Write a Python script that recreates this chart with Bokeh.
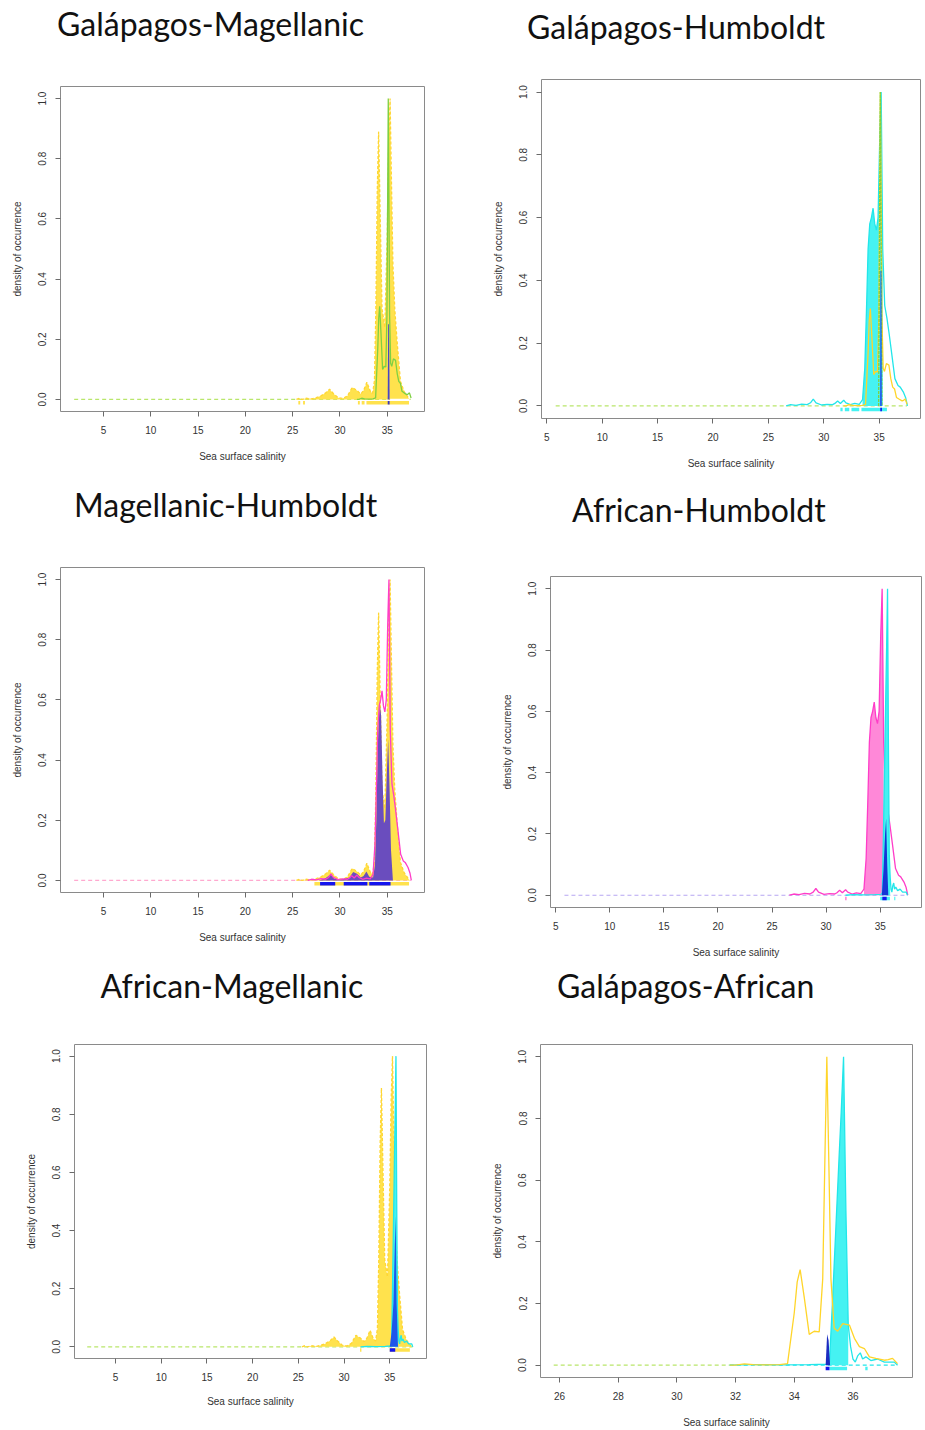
import numpy as np
from bokeh.plotting import figure
from bokeh.layouts import row, column
from bokeh.models import Range1d, FixedTicker, NumeralTickFormatter, Div
from bokeh.embed import file_html
from bokeh.resources import INLINE

# ---------------- texts / ticks ----------------
titles = ["Galápagos-Magellanic", "Galápagos-Humboldt", "Magellanic-Humboldt",
          "African-Humboldt", "African-Magellanic", "Galápagos-African"]
x_label = "Sea surface salinity"
y_label = "density of occurrence"
y_ticks = [0.0, 0.2, 0.4, 0.6, 0.8, 1.0]
x_ticks_full = [5, 10, 15, 20, 25, 30, 35]
x_ticks_zoom = [26, 28, 30, 32, 34, 36]

# ---------------- species density curves ----------------
galapagos_x = [31.8, 32.0, 32.3, 32.6, 33.0, 33.5, 33.77, 34.0, 34.1, 34.2, 34.34, 34.51, 34.68,
               34.85, 34.97, 35.05, 35.11, 35.18, 35.25, 35.36, 35.48, 35.65, 35.88, 36.05,
               36.22, 36.39, 36.56, 36.78, 37.07, 37.2, 37.35, 37.52]
galapagos_y = [0.0, 0.0, 0.004, 0.002, 0.001, 0.002, 0.005, 0.17, 0.27, 0.31, 0.22, 0.10, 0.11,
               0.108, 0.28, 0.7, 1.0, 0.65, 0.28, 0.12, 0.11, 0.135, 0.13, 0.087,
               0.06, 0.054, 0.027, 0.022, 0.016, 0.018, 0.022, 0.005]

magellanic_x = [25.4, 25.7, 26.0, 26.4, 27.0, 27.5, 28.0, 28.5, 28.9, 29.3, 29.8, 30.3, 30.8,
                31.3, 31.6, 31.8, 32.2, 32.5, 32.85, 33.2, 33.45, 33.65, 33.8, 33.95, 34.09,
                34.25, 34.45, 34.75, 35.0, 35.15, 35.3, 35.45, 35.6, 35.8, 36.05, 36.4, 36.8,
                37.1, 37.35]
magellanic_y = [0.0, 0.004, 0.0, 0.004, 0.002, 0.006, 0.012, 0.022, 0.034, 0.02, 0.006, 0.003,
                0.012, 0.04, 0.034, 0.03, 0.018, 0.03, 0.057, 0.028, 0.02, 0.063, 0.3, 0.7,
                0.89, 0.62, 0.3, 0.24, 0.55, 0.85, 1.0, 0.72, 0.45, 0.3, 0.19, 0.06, 0.025,
                0.012, 0.0]

humboldt_x = [26.6, 27.0, 27.5, 28.0, 28.5, 28.8, 29.05, 29.3, 29.8, 30.3, 30.8, 31.0, 31.25,
              31.5, 31.8, 32.0, 32.4, 32.8, 33.2, 33.5, 33.7, 33.85, 34.0, 34.15, 34.3, 34.45,
              34.6, 34.75, 34.9, 35.05, 35.18, 35.32, 35.5, 35.7, 35.9, 36.12, 36.42, 36.7,
              36.9, 37.2, 37.4, 37.55]
humboldt_y = [0.0, 0.004, 0.002, 0.006, 0.004, 0.01, 0.022, 0.01, 0.003, 0.005, 0.004, 0.008,
              0.016, 0.008, 0.018, 0.01, 0.004, 0.008, 0.005, 0.02, 0.12, 0.3, 0.5, 0.58, 0.6,
              0.63, 0.58, 0.56, 0.6, 0.85, 1.0, 0.5, 0.32, 0.28, 0.23, 0.17, 0.087, 0.065,
              0.06, 0.043, 0.025, 0.0]

african_x = [31.8, 32.5, 33.5, 34.5, 35.1, 35.2, 35.3, 35.42, 35.53, 35.6, 35.68, 35.76, 35.84,
             35.92, 36.0, 36.08, 36.16, 36.25, 36.33, 36.44, 36.61, 36.84, 37.07, 37.41, 37.52]
african_y = [0.0, 0.002, 0.001, 0.002, 0.003, 0.01, 0.2, 0.45, 0.68, 0.82, 1.0, 0.5, 0.13,
             0.06, 0.02, 0.01, 0.03, 0.04, 0.02, 0.027, 0.015, 0.02, 0.01, 0.01, 0.0]

# environmental extent (dashed background lines)
env_full = [1.9, 37.5]
env_humboldt = [5.8, 37.5]
env_p6_left = [25.8, 31.8]
env_p6_right = [31.8, 37.5]

# filled parts (salinity interval) of a species' curve
p2_humboldt_fill = (33.3, 35.35)
p4_humboldt_fill = (33.4, 35.35)
p4_african_fill = (35.15, 35.95)
p5_african_fill = (35.1, 35.95)
p6_african_fill = (35.15, 35.9)

# stability (overlap) areas per panel
p1_stab_x = [35.05, 35.1, 35.2, 35.25]
p1_stab_y = [0.0, 0.25, 0.25, 0.0]
p2_stab_x = [35.08, 35.12, 35.2, 35.24]
p2_stab_y = [0.0, 0.43, 0.43, 0.0]
p2_green_x = [34.95, 35.1, 35.25]
p2_green_y = [0.0, 1.0, 0.0]
p3_stab_x = [27.8, 28.5, 29.0, 29.4, 30.0, 30.5, 31.0, 31.4, 31.8, 32.2, 32.5, 32.8, 33.1,
             33.5, 33.7, 33.85, 34.0, 34.2, 34.35, 34.5, 34.65, 34.8, 34.95, 35.1, 35.25,
             35.4, 35.6]
p3_stab_y = [0.0, 0.008, 0.02, 0.006, 0.002, 0.006, 0.01, 0.028, 0.022, 0.01, 0.015, 0.03,
             0.012, 0.01, 0.05, 0.2, 0.45, 0.59, 0.55, 0.35, 0.19, 0.2, 0.35, 0.47, 0.3,
             0.1, 0.0]
p4_stab_x = [35.15, 35.3, 35.45, 35.55, 35.65, 35.75]
p4_stab_y = [0.0, 0.08, 0.2, 0.25, 0.1, 0.0]
p5_stab_x = [35.0, 35.2, 35.4, 35.55, 35.65, 35.75, 35.9]
p5_stab_y = [0.0, 0.05, 0.15, 0.35, 0.45, 0.15, 0.0]
p6_stab_x = [35.07, 35.12, 35.17, 35.22]
p6_stab_y = [0.0, 0.1, 0.08, 0.0]
p1_white_x = [35.3, 37.3]

# rug segments (x start, x end)
p1_rug_unf = ([25.6, 26.1, 31.9, 32.3, 32.8], [25.8, 26.3, 32.1, 32.6, 37.3])
p1_rug_stab = ([35.05], [35.25])
p2_rug_unf = ([31.5, 31.9, 32.5, 33.4], [31.7, 32.3, 33.2, 35.7])
p2_rug_stab = ([35.1], [35.25])
p3_rug_unf = ([27.3], [37.3])
p3_rug_stab = ([27.9, 30.4, 33.1], [29.5, 32.9, 35.35])
p4_rug_unf = ([31.75], [31.9])
p4_rug_exp = ([35.0, 36.3], [35.9, 36.4])
p4_rug_stab = ([35.2], [35.6])
p5_rug_unf = ([31.75, 35.0], [31.9, 37.2])
p5_rug_stab = ([35.0], [35.6])
p6_rug_exp = ([35.2, 36.42], [35.8, 36.5])
p6_rug_stab = ([35.07], [35.2])

# ---------------- style ----------------
YELLOW_FILL = "#FFE24D"
YELLOW_DASH = "#FFD633"
YELLOW_LINE = "#FFD52A"
GREEN_LINE = "#7FD043"
GREEN_BASE = "#B9E66B"
CYAN_FILL = "#45F2F2"
CYAN_LINE = "#22E6EA"
PINK_FILL = "#FF88D8"
MAGENTA_LINE = "#FF3DC8"
PINK_BASE = "#FFA9CF"
LAVENDER_BASE = "#B7A6F2"
RUG_BLUE = "#1414EE"
RUG_Y = -0.011
TITLE_FONT = "Lato"
TITLE_PX = 32
AXIS_FONT = "Liberation Sans"

CELL_X = [0, 470]
CELL_W = [470, 455]
CELL_Y = [0, 478, 962]
CELL_H = [478, 484, 468]
TITLE_H = 52
BASELINE_FROM_TOP = 0.887 * TITLE_PX


def make_panel(title, col, rw, frame, xr, title_at, xticks, xlab_standoff=14):
    left, top, right, bottom = frame
    w, h = CELL_W[col], CELL_H[rw]
    pad_left = title_at[0] - CELL_X[col]
    pad_top = max(0, title_at[1] - CELL_Y[rw] - BASELINE_FROM_TOP)
    html = ('<div style="padding-left:%.1fpx;padding-top:%.1fpx;font-family:%s;'
            'font-size:%dpx;line-height:%dpx;white-space:nowrap;color:#111111;margin:0;">%s</div>'
            % (pad_left, pad_top, TITLE_FONT, TITLE_PX, TITLE_PX, title))
    t = Div(text=html, width=w, height=TITLE_H, margin=0)
    ph = h - TITLE_H
    y0 = CELL_Y[rw] + TITLE_H
    p = figure(width=w, height=ph, output_backend="svg", toolbar_location=None,
               x_range=Range1d(*xr), y_range=Range1d(-0.04, 1.04),
               min_border_left=left - CELL_X[col],
               min_border_right=CELL_X[col] + w - right,
               min_border_top=top - y0,
               min_border_bottom=y0 + ph - bottom,
               x_axis_label=x_label, y_axis_label=y_label)
    p.grid.visible = False
    p.outline_line_color = "#8a8a8a"
    p.outline_line_width = 1
    for ax in (p.xaxis[0], p.yaxis[0]):
        ax.axis_line_color = None
        ax.major_tick_line_color = "#6a6a6a"
        ax.major_tick_out = 5
        ax.major_tick_in = 0
        ax.minor_tick_line_color = None
        ax.major_label_text_font = AXIS_FONT
        ax.major_label_text_font_size = "10px"
        ax.major_label_text_color = "#333333"
        ax.axis_label_text_font = AXIS_FONT
        ax.axis_label_text_font_size = "10px"
        ax.axis_label_text_font_style = "normal"
        ax.axis_label_text_color = "#333333"
        ax.major_label_standoff = 9
    p.xaxis[0].ticker = FixedTicker(ticks=xticks)
    p.xaxis[0].formatter = NumeralTickFormatter(format="0")
    p.xaxis[0].axis_label_standoff = xlab_standoff
    p.yaxis[0].ticker = FixedTicker(ticks=y_ticks)
    p.yaxis[0].formatter = NumeralTickFormatter(format="0.0")
    p.yaxis[0].major_label_orientation = "vertical"
    p.yaxis[0].axis_label_standoff = 13
    return t, p


def base(p, xs, color):
    p.line(xs, np.zeros(len(xs)), line_color=color, line_width=1.2, line_dash="4 3")


def fill(p, xs, ys, color, rng=None):
    xs = np.asarray(xs, dtype=float)
    ys = np.asarray(ys, dtype=float)
    if rng is not None:
        m = (xs >= rng[0]) & (xs <= rng[1])
        xs, ys = xs[m], ys[m]
    p.varea(x=xs, y1=np.zeros(len(xs)), y2=ys, fill_color=color)


def curve(p, xs, ys, color, dash="solid", width=1.3):
    p.line(xs, ys, line_color=color, line_width=width, line_dash=dash)


def rug(p, seg, color):
    x0, x1 = seg
    p.segment(x0=x0, x1=x1, y0=[RUG_Y] * len(x0), y1=[RUG_Y] * len(x0),
              line_color=color, line_width=3.5)


# ---------------- panel 1 ----------------
t1, p1 = make_panel(titles[0], 0, 0, (60, 86, 424, 411), (0.455, 38.94), (57, 36.5), x_ticks_full)
base(p1, env_full, GREEN_BASE)
fill(p1, magellanic_x, magellanic_y, YELLOW_FILL)
curve(p1, magellanic_x, magellanic_y, YELLOW_DASH, dash="3 2")
p1.line(p1_white_x, np.zeros(2), line_color="white", line_width=1.5)
fill(p1, p1_stab_x, p1_stab_y, "#4A46C6")
curve(p1, galapagos_x, galapagos_y, GREEN_LINE)
rug(p1, p1_rug_unf, YELLOW_FILL)
rug(p1, p1_rug_stab, "#3A36C0")

# ---------------- panel 2 ----------------
t2, p2 = make_panel(titles[1], 1, 0, (541, 79, 920, 418), (4.52, 38.73), (527, 39.5), x_ticks_full)
base(p2, env_humboldt, GREEN_BASE)
fill(p2, humboldt_x, humboldt_y, CYAN_FILL, p2_humboldt_fill)
curve(p2, humboldt_x, humboldt_y, CYAN_LINE)
curve(p2, galapagos_x, galapagos_y, YELLOW_LINE)
curve(p2, p2_green_x, p2_green_y, GREEN_LINE, dash="3 1")
fill(p2, p2_stab_x, p2_stab_y, "#1F5BF0")
rug(p2, p2_rug_unf, CYAN_FILL)
rug(p2, p2_rug_stab, RUG_BLUE)

# ---------------- panel 3 ----------------
t3, p3 = make_panel(titles[2], 0, 1, (60, 567, 424, 892), (0.455, 38.94), (74, 517.5), x_ticks_full)
base(p3, env_full, PINK_BASE)
fill(p3, magellanic_x, magellanic_y, YELLOW_FILL)
curve(p3, magellanic_x, magellanic_y, YELLOW_DASH, dash="3 2")
fill(p3, p3_stab_x, p3_stab_y, "#6A4DBE")
curve(p3, humboldt_x, humboldt_y, MAGENTA_LINE)
rug(p3, p3_rug_unf, YELLOW_FILL)
rug(p3, p3_rug_stab, RUG_BLUE)

# ---------------- panel 4 ----------------
t4, p4 = make_panel(titles[3], 1, 1, (550, 576, 921, 907), (4.51, 38.82), (572, 522.5), x_ticks_full)
base(p4, env_humboldt, LAVENDER_BASE)
fill(p4, humboldt_x, humboldt_y, PINK_FILL, p4_humboldt_fill)
curve(p4, humboldt_x, humboldt_y, MAGENTA_LINE)
fill(p4, african_x, african_y, CYAN_FILL, p4_african_fill)
curve(p4, african_x, african_y, CYAN_LINE)
fill(p4, p4_stab_x, p4_stab_y, "#1535D6")
rug(p4, p4_rug_unf, PINK_FILL)
rug(p4, p4_rug_exp, CYAN_FILL)
rug(p4, p4_rug_stab, RUG_BLUE)

# ---------------- panel 5 ----------------
t5, p5 = make_panel(titles[4], 0, 2, (74, 1044, 426, 1358), (0.51, 39.02), (100.5, 998.5), x_ticks_full,
                    xlab_standoff=12)
base(p5, env_full, GREEN_BASE)
fill(p5, magellanic_x, magellanic_y, YELLOW_FILL)
curve(p5, magellanic_x, magellanic_y, YELLOW_DASH, dash="3 2")
fill(p5, african_x, african_y, CYAN_FILL, p5_african_fill)
curve(p5, african_x, african_y, CYAN_LINE)
fill(p5, p5_stab_x, p5_stab_y, "#1E55EA")
rug(p5, p5_rug_unf, YELLOW_FILL)
rug(p5, p5_rug_stab, RUG_BLUE)

# ---------------- panel 6 ----------------
t6, p6 = make_panel(titles[5], 1, 2, (540, 1044, 912, 1377), (25.35, 38.03), (557, 998), x_ticks_zoom)
base(p6, env_p6_left, GREEN_BASE)
base(p6, env_p6_right, CYAN_LINE)
fill(p6, african_x, african_y, CYAN_FILL, p6_african_fill)
curve(p6, african_x, african_y, CYAN_LINE)
curve(p6, galapagos_x, galapagos_y, YELLOW_LINE)
fill(p6, p6_stab_x, p6_stab_y, "#1B2BC0")
rug(p6, p6_rug_exp, CYAN_FILL)
rug(p6, p6_rug_stab, RUG_BLUE)

layout = column(
    row(column(t1, p1), column(t2, p2)),
    row(column(t3, p3), column(t4, p4)),
    row(column(t5, p5), column(t6, p6)),
)
open("out.html", "w").write(file_html(layout, INLINE))
